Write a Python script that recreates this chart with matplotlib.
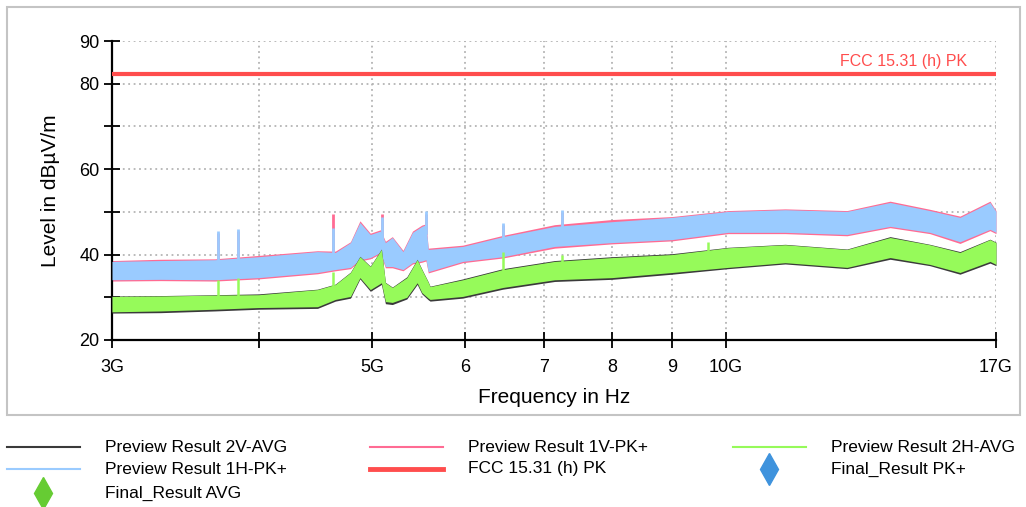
import numpy as np
import matplotlib
matplotlib.use("Agg")
import matplotlib.pyplot as plt
from matplotlib.lines import Line2D
from matplotlib.patches import Rectangle

plt.rcParams["font.family"] = ["Liberation Sans", "DejaVu Sans"]

# ---------- data (frequency in GHz, level in dBuV/m) ----------
# peak scans: band envelope (low / high edge of the noisy trace)
pk_freq = [3.0, 3.3, 3.67, 4.0, 4.49, 4.65, 4.79, 4.88, 4.98, 5.08, 5.13, 5.20, 5.31,
           5.41, 5.51, 5.555, 5.58, 5.97, 6.46, 7.15, 8.0, 9.0, 10.05, 11.24, 12.69,
           13.81, 14.93, 15.84, 16.8, 17.0]
pk_1h_hi = [38.4, 38.6, 38.8, 39.5, 40.7, 40.5, 42.8, 47.5, 44.7, 45.5, 42.8, 44.0, 40.7,
            45.2, 46.6, 47.0, 41.2, 41.9, 44.2, 46.6, 47.7, 48.7, 50.1, 50.5, 50.1,
            52.2, 50.3, 48.7, 52.2, 50.1]
pk_1h_lo = [34.1, 34.2, 34.1, 34.6, 35.8, 36.5, 37.0, 38.8, 39.3, 40.5, 37.2, 37.2, 36.5,
            38.1, 38.5, 38.8, 36.0, 38.4, 39.5, 41.9, 42.8, 43.5, 45.2, 45.2, 44.7,
            46.6, 45.2, 43.0, 45.9, 45.2]
pk_1v_hi = [38.6, 38.9, 39.0, 39.8, 40.9, 40.8, 43.0, 47.9, 45.0, 45.8, 43.1, 44.2, 41.0,
            45.5, 46.9, 47.2, 41.5, 42.2, 44.5, 47.0, 48.2, 48.9, 50.3, 50.7, 50.3,
            52.5, 50.6, 49.0, 52.5, 50.3]
pk_1v_lo = [33.8, 33.9, 33.8, 34.3, 35.5, 36.2, 36.7, 38.5, 39.0, 40.2, 36.9, 36.9, 36.2,
            37.8, 38.2, 38.5, 35.7, 38.1, 39.2, 41.5, 42.5, 43.2, 44.9, 44.9, 44.4,
            46.3, 44.9, 42.6, 45.6, 44.9]

# average scans
avg_freq = [3.0, 3.3, 3.67, 4.0, 4.49, 4.65, 4.79, 4.88, 4.98, 5.09, 5.13, 5.20, 5.35,
            5.46, 5.51, 5.58, 5.60, 5.97, 6.46, 7.15, 8.0, 9.0, 10.05, 11.24, 12.69,
            13.81, 14.93, 15.84, 16.8, 17.0]
avg_2h_hi = [30.2, 30.3, 30.5, 30.6, 31.8, 33.0, 35.8, 39.5, 37.2, 41.2, 33.4, 32.3, 34.6,
             38.8, 36.5, 33.5, 32.5, 34.1, 36.5, 38.4, 39.3, 40.0, 41.6, 42.3, 41.2,
             44.0, 42.3, 40.5, 43.5, 42.8]
avg_2h_lo = [26.6, 26.8, 27.2, 27.6, 27.8, 29.5, 30.2, 34.6, 31.8, 33.4, 29.0, 28.8, 30.0,
             33.4, 31.1, 29.8, 29.5, 30.2, 32.3, 34.1, 34.6, 35.8, 37.0, 38.1, 37.0,
             39.3, 37.7, 35.8, 38.4, 37.7]
avg_2v_hi = [30.3, 30.4, 30.6, 30.8, 31.9, 33.1, 35.9, 39.6, 37.3, 41.3, 33.5, 32.4, 34.8,
             38.9, 36.6, 33.6, 32.6, 34.3, 36.7, 38.6, 39.5, 40.2, 41.7, 42.4, 41.3,
             44.2, 42.4, 40.7, 43.6, 42.9]
avg_2v_lo = [26.3, 26.4, 26.8, 27.2, 27.4, 29.1, 29.8, 34.3, 31.4, 33.0, 28.5, 28.3, 29.6,
             33.0, 30.8, 29.4, 29.1, 29.8, 31.9, 33.7, 34.2, 35.4, 36.7, 37.8, 36.7,
             38.9, 37.4, 35.4, 38.0, 37.4]

# narrow spurs sticking out of the traces
pk_spike_freq = [3.69, 3.84, 4.63, 5.10, 5.56, 6.46, 7.25]
pk_1h_spike = [45.6, 46.1, 46.3, 48.7, 50.1, 47.5, 50.5]
pk_1v_spike = [45.0, 45.5, 49.4, 49.4, 49.6, 47.0, 50.0]
avg_spike_freq = [3.69, 3.84, 4.63, 6.46, 7.25, 9.66]
avg_2h_spike = [34.1, 34.4, 36.0, 40.5, 40.0, 43.0]

limit_level = 82.3
limit_label = "FCC 15.31 (h) PK"

xtick_pos = [3, 4, 5, 6, 7, 8, 9, 10, 17]
xtick_lbl = ["3G", "", "5G", "6", "7", "8", "9", "10G", "17G"]
ytick_pos = [20, 30, 40, 50, 60, 70, 80, 90]
ytick_lbl = ["20", "", "40", "", "60", "", "80", "90"]

legend_labels = ["Preview Result 2V-AVG", "Preview Result 1V-PK+", "Preview Result 2H-AVG",
                 "Preview Result 1H-PK+", "FCC 15.31 (h) PK", "Final_Result PK+",
                 "Final_Result AVG"]

c_black = "#3a3a3a"
c_pink = "#ff6b93"
c_green = "#96fa5a"
c_blue = "#9acbff"
c_red = "#ff4d4d"
c_dpk = "#3f93dd"
c_davg = "#66cc33"

# ---------- figure ----------
fig = plt.figure(figsize=(10.26, 5.07), dpi=100)
ax = fig.add_axes([112 / 1026, 1 - 340 / 507, 884 / 1026, 299 / 507])

ax.set_xscale("log")
ax.set_xlim(3, 17)
ax.set_ylim(20, 90)

ax.fill_between(pk_freq, pk_1v_lo, pk_1v_hi, color=c_pink, lw=0, zorder=2)
ax.fill_between(pk_freq, pk_1h_lo, pk_1h_hi, color=c_blue, lw=0, zorder=3)
ax.fill_between(avg_freq, avg_2v_lo, avg_2v_hi, color=c_black, lw=0, zorder=4)
ax.fill_between(avg_freq, avg_2h_lo, avg_2h_hi, color=c_green, lw=0, zorder=5)

lf_pk = np.log(pk_freq)
lf_avg = np.log(avg_freq)
for f, top_v, top_h in zip(pk_spike_freq, pk_1v_spike, pk_1h_spike):
    base = np.interp(np.log(f), lf_pk, pk_1h_hi)
    ax.vlines(f, base - 1, top_v, color=c_pink, lw=2, zorder=2)
    ax.vlines(f, base - 1, top_h, color=c_blue, lw=2, zorder=3)
for f, top in zip(avg_spike_freq, avg_2h_spike):
    base = np.interp(np.log(f), lf_avg, avg_2h_hi)
    ax.vlines(f, base - 1, top, color=c_green, lw=1.8, zorder=5)

ax.axhline(limit_level, color=c_red, lw=3, zorder=6)
ax.text(16.06, limit_level + 1.2, limit_label, color=c_red, fontsize=11.5,
        ha="right", va="bottom")

ax.set_xticks(xtick_pos)
ax.set_xticklabels(xtick_lbl)
ax.xaxis.set_minor_locator(matplotlib.ticker.NullLocator())
ax.set_yticks(ytick_pos)
ax.set_yticklabels(ytick_lbl)
ax.tick_params(axis="both", direction="inout", length=12, width=1.3, labelsize=13)
ax.tick_params(axis="x", pad=8)
ax.tick_params(axis="y", pad=3)

ax.grid(True, color="#b4b4b4", linestyle=(0, (1, 2)), lw=1.3)
for side in ["top", "right"]:
    ax.spines[side].set_visible(False)
for side in ["left", "bottom"]:
    ax.spines[side].set_linewidth(1.6)
ax.set_axisbelow(True)

ax.set_xlabel("Frequency in Hz", fontsize=15, labelpad=8)
ax.set_ylabel("Level in dBµV/m", fontsize=15, labelpad=14)

# light frame around the plot area
fig.add_artist(Rectangle((7 / 1026, 1 - 415 / 507), 1013 / 1026, 408 / 507,
                         transform=fig.transFigure, fill=False,
                         edgecolor="#c4c4c4", lw=1.5))

# ---------- legend below, laid out row by row ----------
handles = [
    dict(color=c_black, lw=1.5),
    dict(color=c_pink, lw=1.5),
    dict(color=c_green, lw=1.5),
    dict(color=c_blue, lw=1.5),
    dict(color=c_red, lw=3.5),
    dict(marker="d", color=c_dpk),
    dict(marker="d", color=c_davg),
]
col_x = [7, 370, 733]
row_y = [447, 469, 493]
for i, (lbl, h) in enumerate(zip(legend_labels, handles)):
    x0 = col_x[i % 3]
    y0 = 1 - row_y[i // 3] / 507
    if "marker" in h:
        fig.add_artist(Line2D([(x0 + 36) / 1026], [y0], marker="d", markersize=16,
                              color=h["color"], linestyle="none",
                              transform=fig.transFigure))
    else:
        fig.add_artist(Line2D([x0 / 1026, (x0 + 73) / 1026], [y0, y0],
                              color=h["color"], lw=h["lw"], transform=fig.transFigure))
    fig.text((x0 + 98) / 1026, y0, lbl, fontsize=12.5, va="center", ha="left")

fig.savefig("out.png", dpi=100)
